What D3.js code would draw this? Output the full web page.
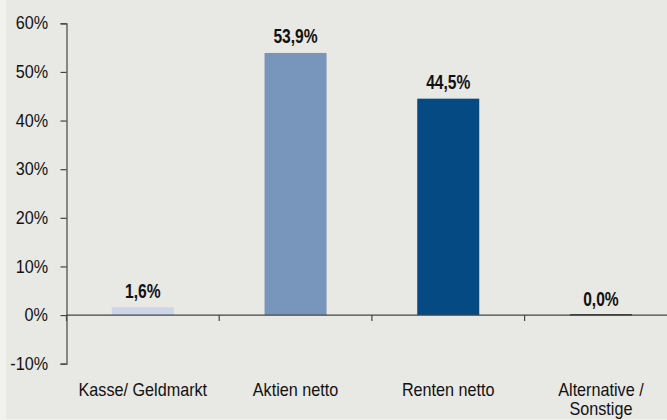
<!DOCTYPE html>
<html>
<head>
<meta charset="utf-8">
<script src="https://cdn.jsdelivr.net/npm/d3@7"></script>
<style>
  body { margin: 0; background: #f1f1ee; }
  svg { display: block; }
</style>
</head>
<body>
<div id="chart"></div>
<script>
// Chart data
var categories = ["Kasse/ Geldmarkt", "Aktien netto", "Renten netto", "Alternative / Sonstige"];
var values = [1.6, 53.9, 44.5, 0.0];
var barColors = ["#cdd6e9", "#7896bb", "#064a84", "#333333"];
var yTicks = [-10, 0, 10, 20, 30, 40, 50, 60];

var width = 667, height = 420;
var labelFont = "'Liberation Sans', Arial, sans-serif";
var squeeze = 0.925; // the source font is slightly condensed

var svg = d3.select("#chart")
  .append("svg")
    .attr("width", width)
    .attr("height", height);

// grey panel
svg.append("rect")
    .attr("x", 6)
    .attr("y", 0)
    .attr("width", width - 6)
    .attr("height", height - 1)
    .attr("fill", "#e8e8e4");

// Scales
var x = d3.scaleBand()
    .domain(categories)
    .range([66.5, 677.3])
    .paddingInner(0)
    .paddingOuter(0);

var y = d3.scaleLinear()
    .domain([-10, 60])
    .range([363.7, 23.3]);

var barWidth = 62;

// Y axis
var yAxis = svg.append("g")
    .attr("transform", "translate(66.5,0)")
    .call(d3.axisLeft(y)
      .tickValues(yTicks)
      .tickSize(6)
      .tickPadding(14)
      .tickFormat(function(d) { return d + "%"; }));

yAxis.select(".domain").attr("stroke", "#444").attr("stroke-width", 1.2);
yAxis.selectAll(".tick line").attr("stroke", "#444").attr("stroke-width", 1.2);
yAxis.selectAll(".tick text")
    .attr("fill", "#111")
    .attr("transform", "scale(" + squeeze + ",1)")
    .style("font-family", labelFont)
    .style("font-size", "17.5px");

// Bars
svg.selectAll(".bar")
    .data(values)
    .enter()
    .append("rect")
      .attr("class", "bar")
      .attr("x", function(d, i) { return x(categories[i]) + x.bandwidth() / 2 - barWidth / 2; })
      .attr("y", function(d) { return d === 0 ? y(0) - 1 : y(d); })
      .attr("width", barWidth)
      .attr("height", function(d) { return d === 0 ? 1.5 : y(0) - y(d); })
      .attr("fill", function(d, i) { return barColors[i]; });

// X axis (zero line with ticks between categories)
var xAxisG = svg.append("g")
    .attr("transform", "translate(0," + y(0) + ")");

xAxisG.append("line")
    .attr("x1", 66.5)
    .attr("x2", width)
    .attr("stroke", "#444")
    .attr("stroke-width", 1.2);

xAxisG.selectAll(".xtick")
    .data(categories)
    .enter()
    .append("line")
      .attr("class", "xtick")
      .attr("x1", function(d) { return x(d); })
      .attr("x2", function(d) { return x(d); })
      .attr("y1", 0)
      .attr("y2", 6)
      .attr("stroke", "#444")
      .attr("stroke-width", 1.2);

// Category labels
var catLabels = svg.selectAll(".cat")
    .data(categories)
    .enter()
    .append("text")
      .attr("class", "cat")
      .attr("text-anchor", "middle")
      .attr("transform", function(d) {
        return "translate(" + (x(d) + x.bandwidth() / 2) + ",396) scale(" + squeeze + ",1)";
      })
      .attr("fill", "#111")
      .style("font-family", labelFont)
      .style("font-size", "17.5px");

catLabels.each(function(d) {
  var t = d3.select(this);
  var parts = d === "Alternative / Sonstige" ? ["Alternative /", "Sonstige"] : [d];
  parts.forEach(function(p, k) {
    t.append("tspan")
      .attr("x", 0)
      .attr("dy", k === 0 ? 0 : 19)
      .text(p);
  });
});

// Value labels (condensed bold)
svg.selectAll(".val")
    .data(values)
    .enter()
    .append("text")
      .attr("class", "val")
      .attr("text-anchor", "middle")
      .attr("transform", function(d, i) {
        return "translate(" + (x(categories[i]) + x.bandwidth() / 2) + "," + (y(d) - 9.5) + ") scale(0.78,1)";
      })
      .attr("fill", "#111")
      .style("font-family", labelFont)
      .style("font-weight", "bold")
      .style("font-size", "20px")
      .text(function(d) { return d.toFixed(1).replace(".", ",") + "%"; });
</script>
</body>
</html>
